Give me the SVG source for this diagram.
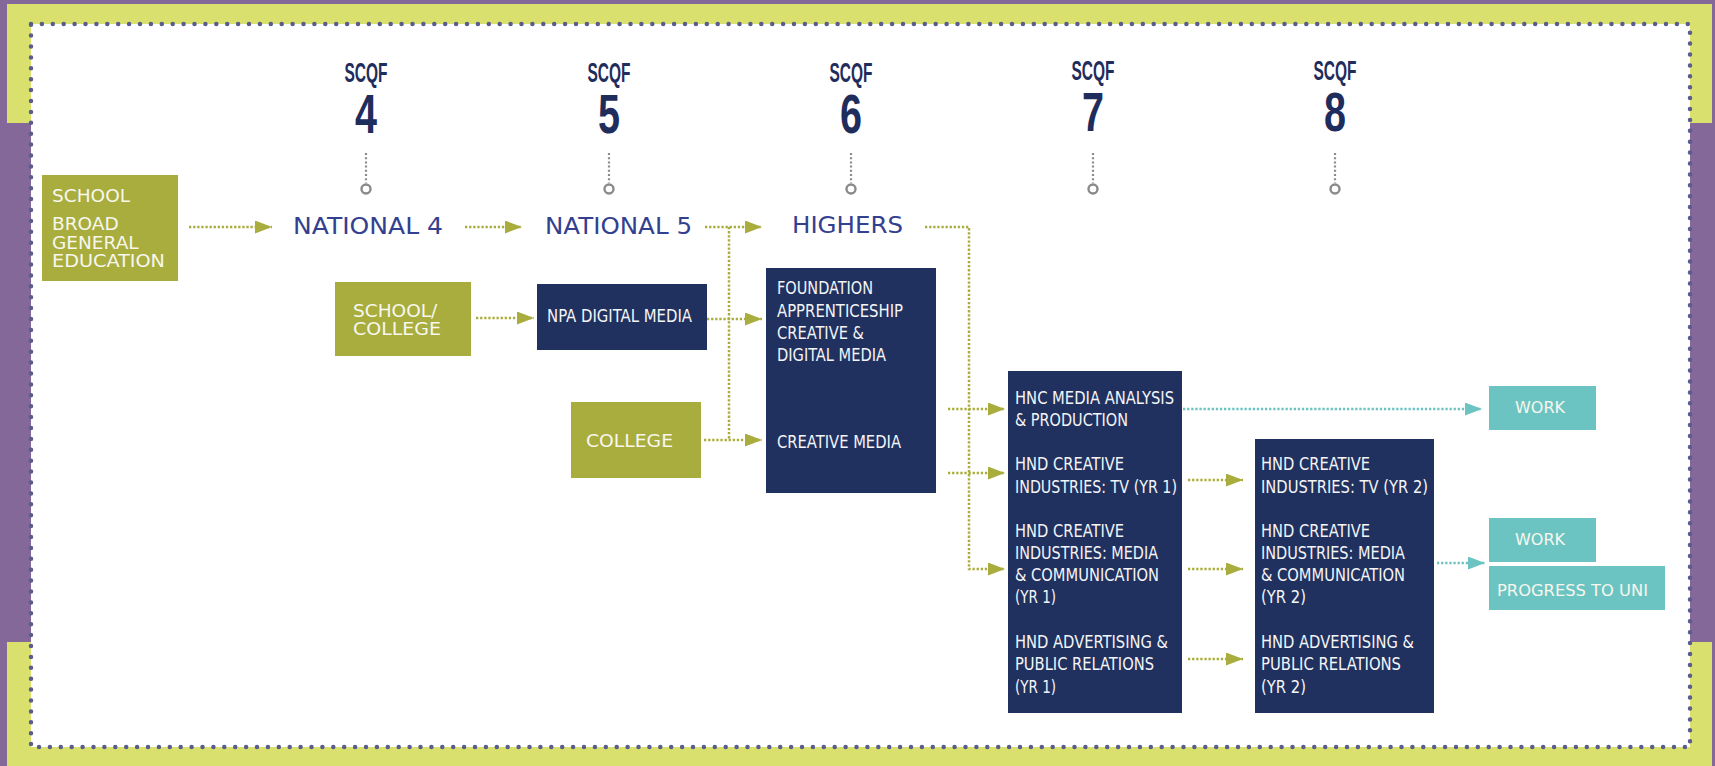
<svg xmlns="http://www.w3.org/2000/svg" width="1715" height="766" viewBox="0 0 1715 766">
<defs>
<style>
.frame{fill:#d9e06e}
.navy{fill:#20315f}
.olive{fill:#a9ad3e}
.teal{fill:#6cc4c2}
.lbl{font-family:"Liberation Sans Narrow","DejaVu Sans Condensed","Liberation Sans",sans-serif;font-size:18px;fill:#f4f5f8}
.geo{font-family:"DejaVu Sans","Noto Sans",sans-serif;fill:#f7f7ee}
.lvl{font-family:"DejaVu Sans","Noto Sans",sans-serif;font-size:23px;fill:#33408f}
.scqf{font-family:"Liberation Sans Narrow","Liberation Sans",sans-serif;font-weight:bold;fill:#1f2d5c;text-anchor:middle}
.oc{fill:none;stroke:#a9ad3e;stroke-width:2.5;stroke-dasharray:2.3 1.8}
.tc{fill:none;stroke:#6cc4c2;stroke-width:2.5;stroke-dasharray:2.3 1.8}
.stalk{fill:none;stroke:#8a8a8a;stroke-width:2.2;stroke-dasharray:2 2.2}
.ring{fill:#fff;stroke:#8a8a8a;stroke-width:2.4}
</style>
<marker id="ao" viewBox="0 0 17 13" refX="17" refY="6.5" markerWidth="17" markerHeight="13" markerUnits="userSpaceOnUse" orient="auto"><path d="M0,0 L17,6.5 L0,13 z" fill="#a9ad3e"/></marker>
<marker id="at" viewBox="0 0 17 13" refX="17" refY="6.5" markerWidth="17" markerHeight="13" markerUnits="userSpaceOnUse" orient="auto"><path d="M0,0 L17,6.5 L0,13 z" fill="#6cc4c2"/></marker>
</defs>
<g id="frame">
<rect x="0" y="0" width="1715" height="766" fill="#84689a"/>
<rect class="frame" x="7" y="4" width="1705" height="22"/>
<rect class="frame" x="7" y="4" width="24" height="119"/>
<rect class="frame" x="7" y="642" width="24" height="124"/>
<rect class="frame" x="7" y="745" width="1705" height="21"/>
<rect class="frame" x="1690" y="4" width="22" height="119"/>
<rect class="frame" x="1690" y="642" width="22" height="124"/>
<rect x="31" y="24" width="1659" height="723" fill="#fff"/>
<rect x="31" y="24" width="1659" height="723" fill="none" stroke="#585c8e" stroke-width="4.5" stroke-linecap="round" stroke-dasharray="0 10.9"/>
</g>
<g id="scqf-levels">
<g id="scqf4"><text class="scqf" x="366" y="82" font-size="28" textLength="43" lengthAdjust="spacingAndGlyphs">SCQF</text><text class="scqf" x="366" y="133" font-size="56" textLength="22" lengthAdjust="spacingAndGlyphs">4</text><path class="stalk" d="M366,153 V183"/><circle class="ring" cx="366" cy="189" r="4.5"/></g>
<g id="scqf5"><text class="scqf" x="609" y="82" font-size="28" textLength="43" lengthAdjust="spacingAndGlyphs">SCQF</text><text class="scqf" x="609" y="133" font-size="56" textLength="22" lengthAdjust="spacingAndGlyphs">5</text><path class="stalk" d="M609,153 V183"/><circle class="ring" cx="609" cy="189" r="4.5"/></g>
<g id="scqf6"><text class="scqf" x="851" y="82" font-size="28" textLength="43" lengthAdjust="spacingAndGlyphs">SCQF</text><text class="scqf" x="851" y="133" font-size="56" textLength="22" lengthAdjust="spacingAndGlyphs">6</text><path class="stalk" d="M851,153 V183"/><circle class="ring" cx="851" cy="189" r="4.5"/></g>
<g id="scqf7"><text class="scqf" x="1093" y="80" font-size="28" textLength="43" lengthAdjust="spacingAndGlyphs">SCQF</text><text class="scqf" x="1093" y="131" font-size="56" textLength="22" lengthAdjust="spacingAndGlyphs">7</text><path class="stalk" d="M1093,153 V183"/><circle class="ring" cx="1093" cy="189" r="4.5"/></g>
<g id="scqf8"><text class="scqf" x="1335" y="80" font-size="28" textLength="43" lengthAdjust="spacingAndGlyphs">SCQF</text><text class="scqf" x="1335" y="131" font-size="56" textLength="22" lengthAdjust="spacingAndGlyphs">8</text><path class="stalk" d="M1335,153 V183"/><circle class="ring" cx="1335" cy="189" r="4.5"/></g>
</g>
<g id="connectors">
<path class="oc" d="M189,227 H272" marker-end="url(#ao)"/>
<path class="oc" d="M465,227 H522" marker-end="url(#ao)"/>
<path class="oc" d="M705,227 H762" marker-end="url(#ao)"/>
<path class="oc" d="M729,227 V440"/>
<path class="oc" d="M476,318 H534" marker-end="url(#ao)"/>
<path class="oc" d="M707,319 H762" marker-end="url(#ao)"/>
<path class="oc" d="M704,440 H762" marker-end="url(#ao)"/>
<path class="oc" d="M925,227 H969 V569 H1005" marker-end="url(#ao)"/>
<path class="oc" d="M948,409 H1005" marker-end="url(#ao)"/>
<path class="oc" d="M948,473 H1005" marker-end="url(#ao)"/>
<path class="oc" d="M1188,480 H1243" marker-end="url(#ao)"/>
<path class="oc" d="M1188,569 H1243" marker-end="url(#ao)"/>
<path class="oc" d="M1188,659 H1243" marker-end="url(#ao)"/>
<path class="tc" d="M1183,409 H1482" marker-end="url(#at)"/>
<path class="tc" d="M1437,563 H1485" marker-end="url(#at)"/>
</g>
<g id="bge"><rect class="olive" x="42" y="175" width="136" height="106"/>
<text class="geo" font-size="18.5" x="52" y="202">SCHOOL</text>
<text class="geo" font-size="18.5" x="52" y="230">BROAD</text>
<text class="geo" font-size="18.5" x="52" y="248.5">GENERAL</text>
<text class="geo" font-size="18.5" x="52" y="267" textLength="113" lengthAdjust="spacingAndGlyphs">EDUCATION</text></g>
<g id="national4"><text class="lvl" x="293" y="234" textLength="150" lengthAdjust="spacingAndGlyphs">NATIONAL 4</text></g>
<g id="national5"><text class="lvl" x="545" y="234" textLength="147" lengthAdjust="spacingAndGlyphs">NATIONAL 5</text></g>
<g id="highers"><text class="lvl" x="792" y="233" textLength="111" lengthAdjust="spacingAndGlyphs">HIGHERS</text></g>
<g id="school-college"><rect class="olive" x="335" y="282" width="136" height="74"/>
<text class="geo" font-size="18.5" x="353" y="317">SCHOOL/</text>
<text class="geo" font-size="18.5" x="353" y="335" textLength="88" lengthAdjust="spacingAndGlyphs">COLLEGE</text></g>
<g id="npa"><rect class="navy" x="537" y="284" width="170" height="66"/>
<text class="lbl" x="547" y="322" textLength="145" lengthAdjust="spacingAndGlyphs">NPA DIGITAL MEDIA</text></g>
<g id="college"><rect class="olive" x="571" y="402" width="130" height="76"/>
<text class="geo" font-size="18.5" x="586" y="447" textLength="87" lengthAdjust="spacingAndGlyphs">COLLEGE</text></g>
<g id="foundation"><rect class="navy" x="766" y="268" width="170" height="225"/>
<text class="lbl" x="777" y="294" textLength="96" lengthAdjust="spacingAndGlyphs">FOUNDATION</text>
<text class="lbl" x="777" y="317" textLength="126" lengthAdjust="spacingAndGlyphs">APPRENTICESHIP</text>
<text class="lbl" x="777" y="339" textLength="87" lengthAdjust="spacingAndGlyphs">CREATIVE &amp;</text>
<text class="lbl" x="777" y="361" textLength="109" lengthAdjust="spacingAndGlyphs">DIGITAL MEDIA</text>
<text class="lbl" x="777" y="448" textLength="124" lengthAdjust="spacingAndGlyphs">CREATIVE MEDIA</text></g>
<g id="year1"><rect class="navy" x="1008" y="371" width="174" height="342"/>
<text class="lbl" x="1015" y="404" textLength="159" lengthAdjust="spacingAndGlyphs">HNC MEDIA ANALYSIS</text>
<text class="lbl" x="1015" y="426" textLength="113" lengthAdjust="spacingAndGlyphs">&amp; PRODUCTION</text>
<text class="lbl" x="1015" y="470" textLength="109" lengthAdjust="spacingAndGlyphs">HND CREATIVE</text>
<text class="lbl" x="1015" y="493" textLength="162" lengthAdjust="spacingAndGlyphs">INDUSTRIES: TV (YR 1)</text>
<text class="lbl" x="1015" y="537" textLength="109" lengthAdjust="spacingAndGlyphs">HND CREATIVE</text>
<text class="lbl" x="1015" y="559" textLength="143" lengthAdjust="spacingAndGlyphs">INDUSTRIES: MEDIA</text>
<text class="lbl" x="1015" y="581" textLength="144" lengthAdjust="spacingAndGlyphs">&amp; COMMUNICATION</text>
<text class="lbl" x="1015" y="603" textLength="41" lengthAdjust="spacingAndGlyphs">(YR 1)</text>
<text class="lbl" x="1015" y="648" textLength="153" lengthAdjust="spacingAndGlyphs">HND ADVERTISING &amp;</text>
<text class="lbl" x="1015" y="670" textLength="139" lengthAdjust="spacingAndGlyphs">PUBLIC RELATIONS</text>
<text class="lbl" x="1015" y="693" textLength="41" lengthAdjust="spacingAndGlyphs">(YR 1)</text></g>
<g id="year2"><rect class="navy" x="1255" y="439" width="179" height="274"/>
<text class="lbl" x="1261" y="470" textLength="109" lengthAdjust="spacingAndGlyphs">HND CREATIVE</text>
<text class="lbl" x="1261" y="493" textLength="167" lengthAdjust="spacingAndGlyphs">INDUSTRIES: TV (YR 2)</text>
<text class="lbl" x="1261" y="537" textLength="109" lengthAdjust="spacingAndGlyphs">HND CREATIVE</text>
<text class="lbl" x="1261" y="559" textLength="144" lengthAdjust="spacingAndGlyphs">INDUSTRIES: MEDIA</text>
<text class="lbl" x="1261" y="581" textLength="144" lengthAdjust="spacingAndGlyphs">&amp; COMMUNICATION</text>
<text class="lbl" x="1261" y="603" textLength="45" lengthAdjust="spacingAndGlyphs">(YR 2)</text>
<text class="lbl" x="1261" y="648" textLength="153" lengthAdjust="spacingAndGlyphs">HND ADVERTISING &amp;</text>
<text class="lbl" x="1261" y="670" textLength="140" lengthAdjust="spacingAndGlyphs">PUBLIC RELATIONS</text>
<text class="lbl" x="1261" y="693" textLength="45" lengthAdjust="spacingAndGlyphs">(YR 2)</text></g>
<g id="work1"><rect class="teal" x="1489" y="386" width="107" height="44"/>
<text class="geo" font-size="16" x="1540" y="413" text-anchor="middle">WORK</text></g>
<g id="work2"><rect class="teal" x="1489" y="518" width="107" height="44"/>
<text class="geo" font-size="16" x="1540" y="545" text-anchor="middle">WORK</text></g>
<g id="uni"><rect class="teal" x="1489" y="566" width="176" height="44"/>
<text class="geo" font-size="16" x="1497" y="596" textLength="151" lengthAdjust="spacingAndGlyphs">PROGRESS TO UNI</text></g>
</svg>
